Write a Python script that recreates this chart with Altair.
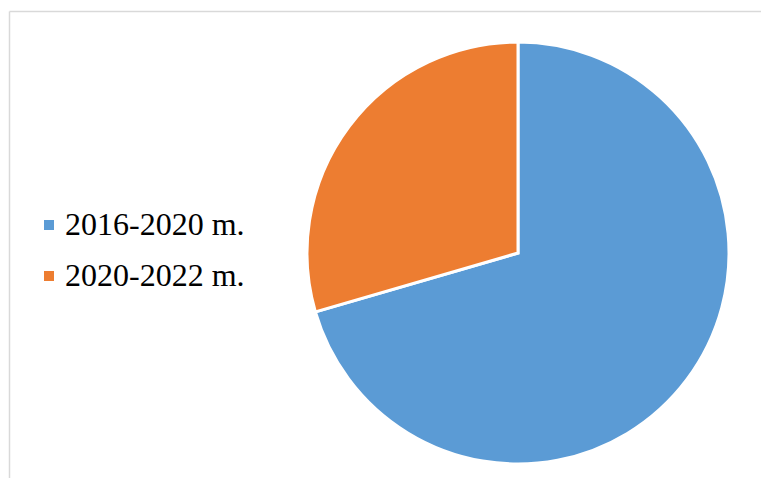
import altair as alt
import pandas as pd

categories = ["2016-2020 m.", "2020-2022 m."]
values = [70.5, 29.5]
colors = ["#5B9BD5", "#ED7D31"]

df = pd.DataFrame({"period": categories, "value": values, "order": [0, 1]})

dummy = pd.DataFrame({"a": [0]})
left_edge = alt.Chart(dummy).mark_rule(stroke="#d9d9d9", strokeWidth=1.5).encode(
    x=alt.value(1.5), y=alt.value(3.5), y2=alt.value(1200)
)
top_edge = alt.Chart(dummy).mark_rule(stroke="#d9d9d9", strokeWidth=1.5).encode(
    x=alt.value(1.5), x2=alt.value(1200), y=alt.value(3.5)
)

pie = alt.Chart(df).mark_arc(
    radius=211, stroke="white", strokeWidth=3
).encode(
    theta=alt.Theta("value:Q", stack=True),
    order=alt.Order("order:Q"),
    color=alt.Color(
        "period:N",
        scale=alt.Scale(domain=categories, range=colors),
        legend=alt.Legend(
            title=None,
            orient="none",
            legendX=25,
            legendY=201,
            symbolType="square",
            symbolSize=100,
            symbolStrokeWidth=0,
            labelFont="Liberation Serif",
            labelFontSize=32,
            labelColor="black",
            labelOffset=0,
            labelLimit=0,
            rowPadding=19,
            padding=0,
        ),
    ),
    x=alt.value(510),
    y=alt.value(245),
)

chart = alt.layer(left_edge, top_edge, pie).properties(
    width=753, height=470, padding=0, autosize="none"
).configure_view(strokeWidth=0, stroke="transparent", strokeOpacity=0)

chart.save("out.html", embed_options={"renderer": "svg", "actions": False})
